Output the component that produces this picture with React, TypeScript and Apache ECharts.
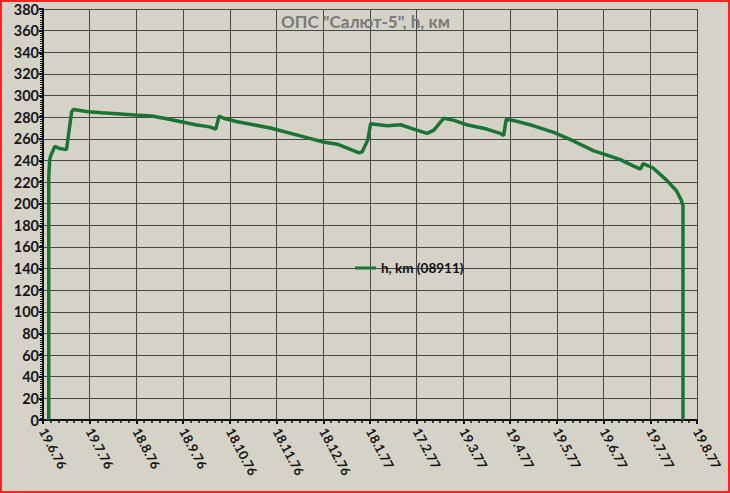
import React, { useEffect, useRef } from "react";
import * as echarts from "echarts";

const tickLabels = [
  "19.6.76", "19.7.76", "18.8.76", "18.9.76", "18.10.76", "18.11.76", "18.12.76",
  "18.1.77", "17.2.77", "19.3.77", "19.4.77", "19.5.77", "19.6.77", "19.7.77", "19.8.77",
];

// days since 19.6.76
const days = [
  3.7, 3.7, 4.3, 5.4, 7.6, 10.8, 15.1, 18.4, 19.5, 29, 38, 59, 70, 81, 98, 107, 111,
  113, 116, 124, 146, 167, 180, 189, 203, 205, 208.6, 210.4, 221, 229.6, 240, 246.7,
  251, 257.4, 264, 272, 285, 293.6, 295.8, 297.5, 302, 315, 328, 340.6, 353.4, 370.4,
  379, 383.7, 385.4, 391.8, 400.3, 406.8, 410, 411, 411,
];
// altitude, km
const heights = [
  0, 225, 241, 246, 253, 251, 250, 285, 287, 285, 284, 282, 281, 278, 273, 271, 269,
  281, 279, 276, 270, 262, 257, 255, 247, 248, 259, 274, 272, 273, 268, 265,
  268, 279, 277, 273, 269, 265, 263, 278, 277, 272, 266, 258, 249, 241,
  235, 232, 237, 233, 222, 212, 203, 198, 0,
];

const seriesName = "h, km (08911)";
const titleText = 'ОПС "Салют-5", h, км';

export default function App() {
  const ref = useRef<HTMLDivElement>(null);
  useEffect(() => {
    if (!ref.current) return;
    const chart = echarts.init(ref.current, undefined, { renderer: "svg" });
    const font = "Lato, 'Open Sans', sans-serif";
    chart.setOption({
      animation: false,
      backgroundColor: "#d5d2c8",
      title: {
        text: titleText,
        left: 276,
        top: 8,
        textStyle: { fontFamily: font, fontWeight: "bold", fontSize: 17, color: "#7a7a7a" },
      },
      legend: {
        left: 350,
        top: 256,
        itemWidth: 21,
        itemHeight: 3,
        itemGap: 4,
        textStyle: { fontFamily: font, fontWeight: "bold", fontSize: 13.5, color: "#111" },
        data: [{ name: seriesName, icon: "rect" }],
      },
      grid: { left: 43, right: 33, top: 9, bottom: 73, containLabel: false },
      xAxis: {
        type: "value",
        min: 0,
        max: 420,
        interval: 30,
        axisLine: { show: true, onZero: false, lineStyle: { color: "#111", width: 2 } },
        axisTick: { show: true, length: 4, lineStyle: { color: "#111", width: 2 } },
        minorTick: { show: true, splitNumber: 6, length: 3, lineStyle: { color: "#111", width: 1.5 } },
        splitLine: { show: true, lineStyle: { color: "#474747", width: 1 } },
        axisLabel: {
          rotate: -62,
          margin: 9,
          fontFamily: font,
          fontWeight: "bold",
          fontSize: 13,
          color: "#151515",
          formatter: (v: number) => tickLabels[Math.round(v / 30)] ?? "",
        },
      },
      yAxis: {
        type: "value",
        min: 0,
        max: 380,
        interval: 20,
        axisLine: { show: true, lineStyle: { color: "#111", width: 2 } },
        axisTick: { show: true, length: 4, lineStyle: { color: "#111", width: 2 } },
        minorTick: { show: true, splitNumber: 10, length: 3, lineStyle: { color: "#111", width: 1 } },
        splitLine: { show: true, lineStyle: { color: "#474747", width: 1 } },
        axisLabel: {
          margin: 4,
          fontFamily: font,
          fontWeight: "bold",
          fontSize: 14.5,
          color: "#151515",
        },
      },
      series: [
        {
          name: seriesName,
          type: "line",
          symbol: "none",
          data: days.map((d, i) => [d, heights[i]]),
          lineStyle: { color: "#1b7434", width: 3.5 },
          itemStyle: { color: "#1b7434" },
        },
      ],
      graphic: [
        {
          type: "rect",
          z: 100,
          shape: { x: 1, y: 1, width: 728, height: 491 },
          style: { fill: "none", stroke: "#ff2020", lineWidth: 2 },
        },
      ],
    });
    return () => chart.dispose();
  }, []);
  return (
    <div
      ref={ref}
      style={{ position: "absolute", left: 0, top: 0, width: 730, height: 493 }}
    />
  );
}
